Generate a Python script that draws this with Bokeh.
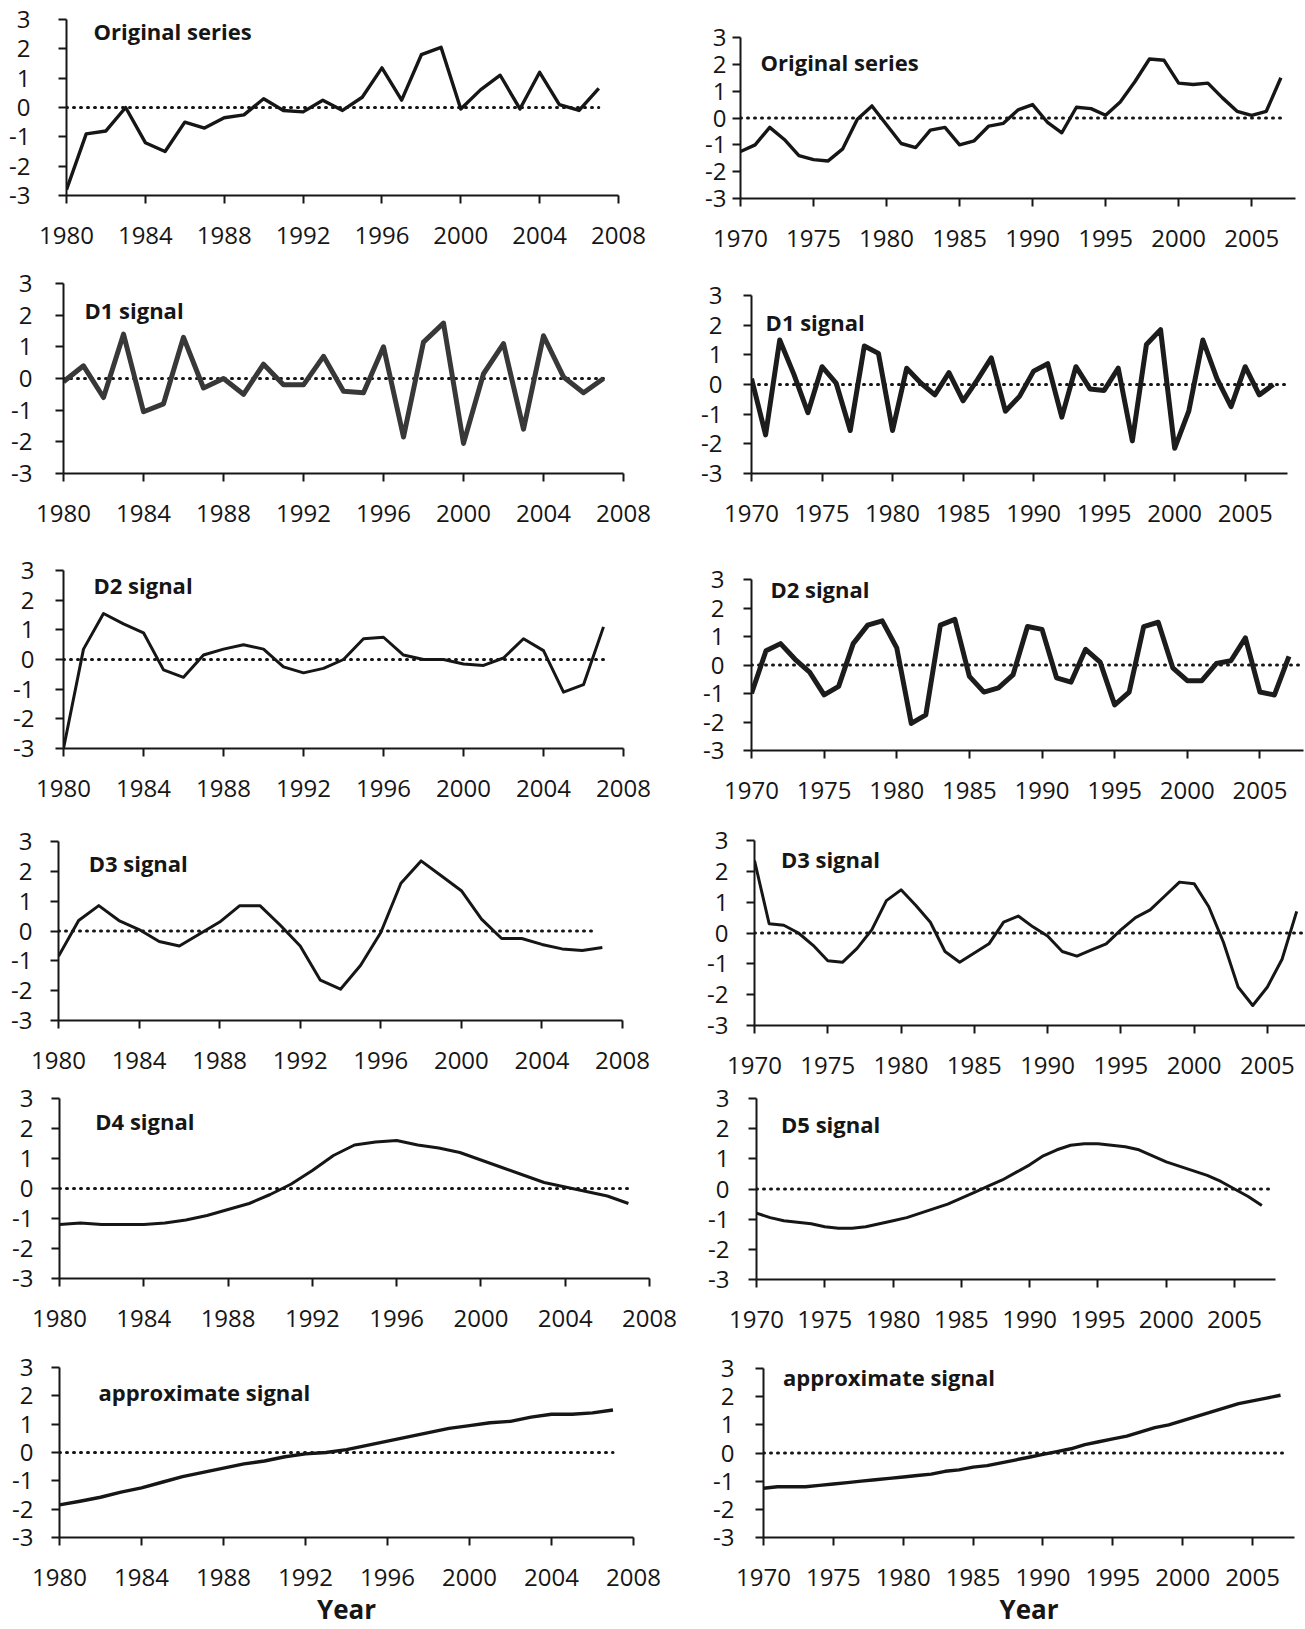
from bokeh.plotting import figure
from bokeh.layouts import column, row
from bokeh.models import Range1d, FixedTicker, Label
from bokeh.embed import file_html
from bokeh.resources import INLINE

# ---------------- data ----------------
years_a = list(range(1980, 2008))
years_b = list(range(1970, 2008))
x_ticks_a = [1980, 1984, 1988, 1992, 1996, 2000, 2004, 2008]
x_ticks_b = [1970, 1975, 1980, 1985, 1990, 1995, 2000, 2005]
y_ticks = [-3, -2, -1, 0, 1, 2, 3]

orig_a = [-2.8, -0.9, -0.8, 0.0, -1.2, -1.5, -0.5, -0.7, -0.35, -0.25,
          0.3, -0.1, -0.15, 0.25, -0.1, 0.35, 1.35, 0.25, 1.8, 2.05,
          -0.05, 0.6, 1.1, -0.05, 1.2, 0.1, -0.1, 0.65]
orig_b = [-1.25, -1.0, -0.35, -0.8, -1.4, -1.55, -1.6, -1.15, -0.05, 0.45,
          -0.25, -0.95, -1.1, -0.45, -0.35, -1.0, -0.85, -0.3, -0.2, 0.3,
          0.5, -0.15, -0.55, 0.4, 0.35, 0.1, 0.6, 1.35, 2.2, 2.15,
          1.3, 1.25, 1.3, 0.75, 0.25, 0.1, 0.25, 1.5]

d1_a = [-0.1, 0.4, -0.6, 1.4, -1.05, -0.8, 1.3, -0.3, 0.0, -0.5,
        0.45, -0.2, -0.2, 0.7, -0.4, -0.45, 1.0, -1.85, 1.15, 1.75,
        -2.05, 0.15, 1.1, -1.6, 1.35, 0.05, -0.45, 0.0]
d1_b = [0.2, -1.7, 1.5, 0.35, -0.95, 0.6, 0.05, -1.55, 1.3, 1.05,
        -1.55, 0.55, 0.05, -0.35, 0.4, -0.55, 0.15, 0.9, -0.9, -0.4,
        0.45, 0.7, -1.1, 0.6, -0.15, -0.2, 0.55, -1.9, 1.35, 1.85,
        -2.15, -0.9, 1.5, 0.2, -0.75, 0.6, -0.35, 0.0]

d2_a = [-3.0, 0.35, 1.55, 1.2, 0.9, -0.35, -0.6, 0.15, 0.35, 0.5,
        0.35, -0.25, -0.45, -0.3, 0.0, 0.7, 0.75, 0.15, 0.0, 0.0,
        -0.15, -0.2, 0.05, 0.7, 0.3, -1.1, -0.85, 1.1]
d2_b = [-1.0, 0.5, 0.75, 0.2, -0.25, -1.05, -0.75, 0.75, 1.4, 1.55,
        0.6, -2.05, -1.75, 1.4, 1.6, -0.4, -0.95, -0.8, -0.35, 1.35,
        1.25, -0.45, -0.6, 0.55, 0.1, -1.4, -0.95, 1.35, 1.5, -0.1,
        -0.55, -0.55, 0.05, 0.15, 0.95, -0.95, -1.05, 0.3]

d3_a = [-0.85, 0.35, 0.85, 0.35, 0.05, -0.35, -0.5, -0.1, 0.3, 0.85,
        0.85, 0.2, -0.5, -1.65, -1.95, -1.15, -0.05, 1.6, 2.35, 1.85,
        1.35, 0.4, -0.25, -0.25, -0.45, -0.6, -0.65, -0.55]
d3_b = [2.35, 0.3, 0.25, 0.0, -0.4, -0.9, -0.95, -0.5, 0.1, 1.05,
        1.4, 0.9, 0.35, -0.6, -0.95, -0.65, -0.35, 0.35, 0.55, 0.2,
        -0.1, -0.6, -0.75, -0.55, -0.35, 0.1, 0.5, 0.75, 1.2, 1.65,
        1.6, 0.85, -0.3, -1.75, -2.35, -1.75, -0.85, 0.7]

d4_a = [-1.2, -1.15, -1.2, -1.2, -1.2, -1.15, -1.05, -0.9, -0.7, -0.5,
        -0.2, 0.15, 0.6, 1.1, 1.45, 1.55, 1.6, 1.45, 1.35, 1.2,
        0.95, 0.7, 0.45, 0.2, 0.05, -0.1, -0.25, -0.5]
d5_b = [-0.8, -0.95, -1.05, -1.1, -1.15, -1.25, -1.3, -1.3, -1.25, -1.15,
        -1.05, -0.95, -0.8, -0.65, -0.5, -0.3, -0.1, 0.1, 0.3, 0.55,
        0.8, 1.1, 1.3, 1.45, 1.5, 1.5, 1.45, 1.4, 1.3, 1.1,
        0.9, 0.75, 0.6, 0.45, 0.25, 0.0, -0.25, -0.55]

approx_a = [-1.85, -1.72, -1.58, -1.4, -1.25, -1.05, -0.85, -0.7, -0.55, -0.4,
            -0.3, -0.15, -0.05, 0.0, 0.1, 0.25, 0.4, 0.55, 0.7, 0.85,
            0.95, 1.05, 1.1, 1.25, 1.35, 1.35, 1.4, 1.5]
approx_b = [-1.25, -1.2, -1.2, -1.2, -1.15, -1.1, -1.05, -1.0, -0.95, -0.9,
            -0.85, -0.8, -0.75, -0.65, -0.6, -0.5, -0.45, -0.35, -0.25, -0.15,
            -0.05, 0.05, 0.15, 0.3, 0.4, 0.5, 0.6, 0.75, 0.9, 1.0,
            1.15, 1.3, 1.45, 1.6, 1.75, 1.85, 1.95, 2.05]

FONT = "Open Sans"
INK = "#161616"
LEFT_W, RIGHT_W = 690, 615


def panel(xs, ys, x_end, ticks, w, h, borders, title, title_xy,
          lw=3.0, color=INK, y_gap=28, zero_end=None, year_label=False):
    left, right, top, bottom = borders
    p = figure(width=w, height=h, output_backend="svg", toolbar_location=None,
               x_range=Range1d(xs[0], x_end), y_range=Range1d(-3, 3),
               min_border_left=left, min_border_right=right,
               min_border_top=top, min_border_bottom=bottom)
    p.outline_line_color = None
    p.background_fill_color = "white"
    p.border_fill_color = "white"
    p.xgrid.visible = False
    p.ygrid.visible = False

    for ax in (p.xaxis[0], p.yaxis[0]):
        ax.axis_line_color = INK
        ax.axis_line_width = 2
        ax.major_tick_line_color = INK
        ax.major_tick_line_width = 2
        ax.major_tick_out = 8
        ax.major_tick_in = 0
        ax.minor_tick_line_color = None
        ax.major_label_text_font = FONT
        ax.major_label_text_font_size = "24px"
        ax.major_label_text_color = INK

    p.xaxis.ticker = FixedTicker(ticks=ticks)
    p.yaxis.ticker = FixedTicker(ticks=y_ticks)
    p.yaxis.major_label_overrides = {t: str(t) for t in y_ticks}
    p.xaxis.major_label_overrides = {t: str(t) for t in ticks}
    p.yaxis.major_label_standoff = max(y_gap - 8, 0)
    p.xaxis.major_label_standoff = 23

    if year_label:
        p.xaxis.axis_label = "Year"
        p.xaxis.axis_label_text_font = FONT
        p.xaxis.axis_label_text_font_style = "bold"
        p.xaxis.axis_label_text_font_size = "26px"
        p.xaxis.axis_label_text_color = INK
        p.xaxis.axis_label_standoff = 2

    # dotted zero reference
    z_end = zero_end if zero_end is not None else xs[-1]
    p.line([xs[0], z_end], [0, 0], line_color=INK, line_width=3,
           line_dash="1 6", line_cap="round")

    p.line(xs, ys, line_color=color, line_width=lw, line_join="round")

    p.add_layout(Label(x=title_xy[0], y=title_xy[1], text=title,
                       text_font=FONT, text_font_style="bold",
                       text_font_size="22px", text_color=INK,
                       text_baseline="alphabetic", text_align="left"))
    return p


def cell(p):
    # each panel sits in its own box so its frame keeps its own borders
    return column(p, spacing=0)


p1 = panel(years_a, orig_a, 2008, x_ticks_a, LEFT_W, 262, (66, 72, 19, 67),
           "Original series", (1981.37, 2.62), lw=3.4, y_gap=36, zero_end=2007)
p2 = panel(years_b, orig_b, 2008, x_ticks_b, RIGHT_W, 262, (50, 10, 37, 64),
           "Original series", (1971.37, 2.07), lw=3.4, y_gap=14, zero_end=2007)

p3 = panel(years_a, d1_a, 2008, x_ticks_a, LEFT_W, 273, (63, 67, 21, 62),
           "D1 signal", (1981.05, 2.15), lw=5, color="#383838", y_gap=31, zero_end=2007)
p4 = panel(years_b, d1_b, 2008, x_ticks_b, RIGHT_W, 273, (61, 18, 33, 62),
           "D1 signal", (1971.0, 2.09), lw=5, color="#1c1c1c", y_gap=29, zero_end=2008)

p5 = panel(years_a, d2_a, 2008, x_ticks_a, LEFT_W, 270, (63, 67, 35, 57),
           "D2 signal", (1981.5, 2.50), lw=3, y_gap=29, zero_end=2007)
p6 = panel(years_b, d2_b, 2008, x_ticks_b, RIGHT_W, 270, (61, 2, 44, 55),
           "D2 signal", (1971.3, 2.65), lw=5, color="#1c1c1c", y_gap=27, zero_end=2008)

p7 = panel(years_a, d3_a, 2008, x_ticks_a, LEFT_W, 276, (58, 68, 36, 61),
           "D3 signal", (1981.5, 2.27), lw=3, y_gap=26, zero_end=2006.6)
p8 = panel(years_b, d3_b, 2007.6, x_ticks_b, RIGHT_W, 276, (64, 0, 35, 56),
           "D3 signal", (1971.8, 2.41), lw=3, y_gap=26, zero_end=2007.6)

p9 = panel(years_a, d4_a, 2008, x_ticks_a, LEFT_W, 264, (59, 41, 17, 67),
           "D4 signal", (1981.7, 2.26), lw=3, y_gap=26, zero_end=2007)
p10 = panel(years_b, d5_b, 2008, x_ticks_b, RIGHT_W, 264, (66, 30, 17, 66),
            "D5 signal", (1971.8, 2.17), lw=3, y_gap=27, zero_end=2007.8)

p11 = panel(years_a, approx_a, 2008, x_ticks_a, LEFT_W, 284, (59, 57, 22, 89),
            "approximate signal", (1981.9, 2.14), lw=3.4, y_gap=26,
            zero_end=2007, year_label=True)
p12 = panel(years_b, approx_b, 2008, x_ticks_b, RIGHT_W, 284, (73, 11, 23, 89),
            "approximate signal", (1971.4, 2.69), lw=3.4, y_gap=29,
            zero_end=2007.4, year_label=True)

layout = column(
    row(cell(p1), cell(p2), spacing=0),
    row(cell(p3), cell(p4), spacing=0),
    row(cell(p5), cell(p6), spacing=0),
    row(cell(p7), cell(p8), spacing=0),
    row(cell(p9), cell(p10), spacing=0),
    row(cell(p11), cell(p12), spacing=0),
    spacing=0,
)

open("out.html", "w").write(file_html(layout, INLINE))
